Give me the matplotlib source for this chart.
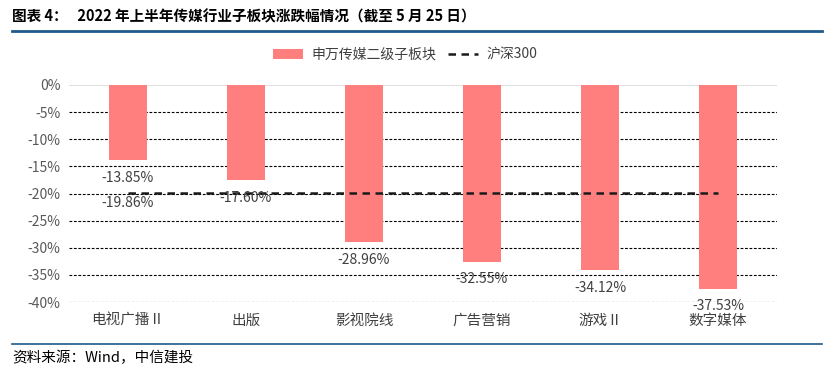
import matplotlib
matplotlib.use("Agg")
import matplotlib.pyplot as plt
from matplotlib.lines import Line2D
from matplotlib.patches import Patch
import numpy as np

plt.rcParams['font.family'] = ['Noto Sans CJK SC', 'DejaVu Sans']

categories = ['电视广播Ⅱ', '出版', '影视院线', '广告营销', '游戏Ⅱ', '数字媒体']
sector_values = [-13.85, -17.60, -28.96, -32.55, -34.12, -37.53]
hs300_values = [-19.86, -19.86, -19.86, -19.86, -19.86, -19.86]
yticks = [0, -5, -10, -15, -20, -25, -30, -35, -40]
ytick_labels = ['0%', '-5%', '-10%', '-15%', '-20%', '-25%', '-30%', '-35%', '-40%']

W, H = 833, 385
fig = plt.figure(figsize=(W / 100, H / 100), dpi=100)
ax = fig.add_axes([69 / W, 1 - 302 / H, (777 - 69) / W, (302 - 85) / H])

x = np.arange(len(categories))
bar_color = '#FF7F7F'
ax.bar(x, sector_values, width=0.32, color=bar_color, zorder=3)
ax.plot(x, hs300_values, color='#1a1a1a', lw=1.8, ls=(0, (3, 2.2)), zorder=4)

ax.set_xlim(-0.5, len(categories) - 0.5)
ax.set_ylim(-40, 0)
ax.set_yticks(yticks)
ax.set_yticklabels(ytick_labels, fontsize=10, color='#595959')
ax.set_xticks(x)
ax.set_xticklabels(categories, fontsize=10.5, color='#404040')
ax.tick_params(axis='y', length=0, pad=6)
ax.tick_params(axis='x', length=0, pad=8.5)

for s in ax.spines.values():
    s.set_visible(False)
for t in yticks:
    if t == 0:
        ax.axhline(t, color='#D9D9D9', lw=1.2, zorder=2)
    else:
        ax.axhline(t, color='black', lw=0.8, ls=(0, (2.5, 1.5)), zorder=1)

for xi, v in zip(x, sector_values):
    ax.annotate(f'{v:.2f}%', (xi, v), xytext=(0, -7.5), textcoords='offset points',
                ha='center', va='top', fontsize=10, color='#404040', zorder=5)
ax.annotate(f'{hs300_values[0]:.2f}%', (x[0], hs300_values[0]), xytext=(0, -2.5),
            textcoords='offset points', ha='center', va='top', fontsize=10,
            color='#404040', zorder=5)

handles = [Patch(facecolor=bar_color, edgecolor='none'),
           Line2D([0], [0], color='#1a1a1a', lw=1.8, ls=(0, (3, 2.2)))]
fig.legend(handles, ['申万传媒二级子板块', '沪深300'], loc='center',
           bbox_to_anchor=(405 / W, 1 - 55 / H), ncol=2, frameon=False,
           fontsize=10, labelcolor='#404040', handlelength=2.2, columnspacing=0.8,
           handletextpad=0.6)

# title and rules
fig.text(12 / W, 1 - 16 / H, '图表 4：   2022 年上半年传媒行业子板块涨跌幅情况（截至 5 月 25 日）',
         fontsize=10.5, fontweight='bold', color='black', va='center', ha='left')
blue = '#1F5A8A'
fig.add_artist(Line2D([12 / W, 822 / W], [1 - 31 / H, 1 - 31 / H], color=blue, lw=2))
fig.add_artist(Line2D([12 / W, 822 / W], [1 - 344 / H, 1 - 344 / H], color=blue, lw=1.2))
fig.text(12 / W, 1 - 358 / H, '资料来源：Wind，中信建投', fontsize=10.5, style='italic',
         color='black', va='center', ha='left')

fig.savefig('out.png', dpi=100)
